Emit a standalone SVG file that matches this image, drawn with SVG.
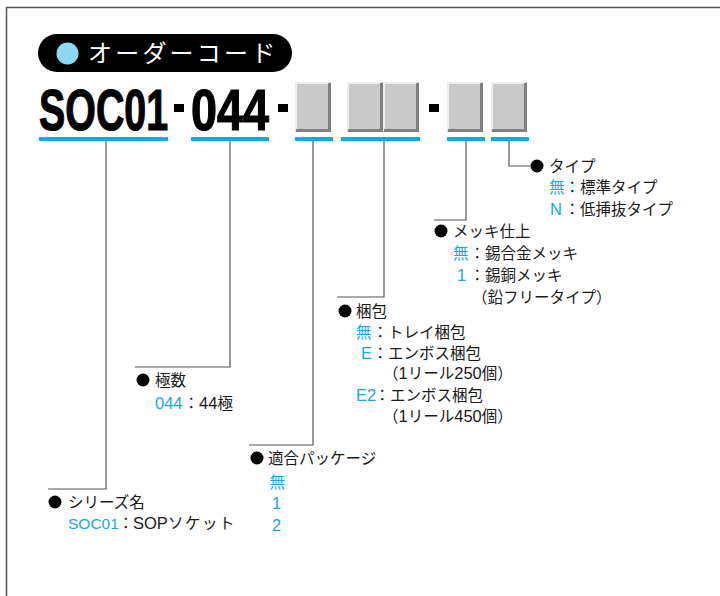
<svg xmlns="http://www.w3.org/2000/svg" width="720" height="596" viewBox="0 0 720 596">
<style>
.t{font-family:"Liberation Sans","Noto Sans CJK JP",sans-serif;font-size:15.5px;fill:#1a1a1a}
.n{font-size:16.5px}
.b{fill:#14a9e6}
.code{font-family:"Liberation Sans",Arial,sans-serif;font-weight:bold;font-size:58px;fill:#000;stroke:#000;stroke-width:1.2}
.ul{fill:#00aeef}
.box{fill:#c9c9c9}
.hi{fill:none;stroke:#ececec;stroke-width:2}
.sh{fill:none;stroke:#808080;stroke-width:3}
.conn{fill:none;stroke:#555;stroke-width:1.2}
</style>
<rect width="720" height="596" fill="#fff"/>
<path d="M6.5 596V7.5H720" fill="none" stroke="#555" stroke-width="1.5"/>

<g id="title">
<rect x="38" y="34" width="254" height="38" rx="19" fill="#000"/>
<circle cx="67.5" cy="53.5" r="11" fill="#8dd7f7"/>
<text x="88" y="62" font-family="'Noto Sans CJK JP',sans-serif" font-size="24" fill="#fff" letter-spacing="3.2">オーダーコード</text>
</g>

<g id="code">
<text class="code" transform="translate(39,130) scale(0.679,1)">SOC01</text>
<rect x="174" y="104" width="10" height="8" fill="#000"/>
<text class="code" transform="translate(191,130) scale(0.807,1)">044</text>
<rect x="278" y="104" width="10" height="8" fill="#000"/>
<rect x="429" y="104" width="10" height="8" fill="#000"/>
<g id="boxes">
<rect class="box" x="295" y="82" width="36" height="50"/><path class="hi" d="M296 131V83H330"/><path class="sh" d="M296 130.5H329.5V83"/>
<rect class="box" x="347" y="82" width="36" height="50"/><path class="hi" d="M348 131V83H382"/><path class="sh" d="M348 130.5H381.5V83"/>
<rect class="box" x="383" y="82" width="36" height="50"/><path class="hi" d="M384 131V83H418"/><path class="sh" d="M384 130.5H417.5V83"/>
<rect class="box" x="447" y="82" width="36" height="50"/><path class="hi" d="M448 131V83H482"/><path class="sh" d="M448 130.5H481.5V83"/>
<rect class="box" x="491" y="82" width="36" height="50"/><path class="hi" d="M492 131V83H526"/><path class="sh" d="M492 130.5H525.5V83"/>
</g>
<g id="underlines">
<rect class="ul" x="39" y="137" width="129" height="4"/>
<rect class="ul" x="191" y="137" width="78" height="4"/>
<rect class="ul" x="295" y="137" width="38" height="4"/>
<rect class="ul" x="341" y="137" width="79" height="4"/>
<rect class="ul" x="447" y="137" width="38" height="4"/>
<rect class="ul" x="491" y="137" width="38" height="4"/>
</g>
</g>

<g id="connectors">
<path class="conn" d="M106 141V489H48"/>
<path class="conn" d="M230 141V367H135"/>
<path class="conn" d="M313 141V445H249"/>
<path class="conn" d="M384 141V297H337"/>
<path class="conn" d="M466 141V220H434"/>
<path class="conn" d="M509 141V166H530"/>
</g>

<g id="type">
<circle cx="537" cy="166" r="6.5" fill="#000"/>
<text class="t" x="549" y="171.5">タイプ</text>
<text class="t b" x="549" y="193">無</text><text class="t" x="564.5" y="193">：標準タイプ</text>
<text class="t n b" x="550" y="214.5">N</text><text class="t" x="564.5" y="214.5">：低挿抜タイプ</text>
</g>

<g id="plating">
<circle cx="441" cy="231" r="6.5" fill="#000"/>
<text class="t" x="453" y="236.5">メッキ仕上</text>
<text class="t b" x="453" y="258.5">無</text><text class="t" x="469.5" y="258.5">：錫合金メッキ</text>
<text class="t n b" x="457" y="280.5">1</text><text class="t" x="469.5" y="280.5">：錫銅メッキ</text>
<text class="t" x="472" y="302.5">（鉛フリータイプ）</text>
</g>

<g id="packing">
<circle cx="345" cy="311" r="6.5" fill="#000"/>
<text class="t" x="356" y="316.5">梱包</text>
<text class="t b" x="356" y="337.5">無</text><text class="t" x="372.5" y="337.5">：トレイ梱包</text>
<text class="t n b" x="361" y="358.5">E</text><text class="t" x="372.5" y="358.5">：エンボス梱包</text>
<text class="t" x="383" y="379">（<tspan class="n">1</tspan>リール<tspan class="n">250</tspan>個）</text>
<text class="t n b" x="356" y="400.5">E2</text><text class="t" x="374.5" y="400.5">：エンボス梱包</text>
<text class="t" x="383" y="421.5">（<tspan class="n">1</tspan>リール<tspan class="n">450</tspan>個）</text>
</g>

<g id="poles">
<circle cx="143" cy="380" r="6.5" fill="#000"/>
<text class="t" x="155" y="385.5">極数</text>
<text class="t n b" x="155" y="408.5">044</text><text class="t" x="183.5" y="408.5">：<tspan class="n">44</tspan>極</text>
</g>

<g id="package">
<circle cx="257" cy="458" r="6.5" fill="#000"/>
<text class="t" x="268" y="463.5">適合パッケージ</text>
<text class="t b" x="269.5" y="487.5">無</text>
<text class="t n b" x="272" y="508.5">1</text>
<text class="t n b" x="272" y="530.5">2</text>
</g>

<g id="series">
<circle cx="55" cy="502" r="6.5" fill="#000"/>
<text class="t" x="68" y="507.5">シリーズ名</text>
<text class="t" y="528.5"><tspan class="b" x="68">SOC01</tspan><tspan x="118">：</tspan><tspan class="n" x="133">SOP</tspan><tspan x="168" letter-spacing="1.5">ソケット</tspan></text>
</g>
</svg>
